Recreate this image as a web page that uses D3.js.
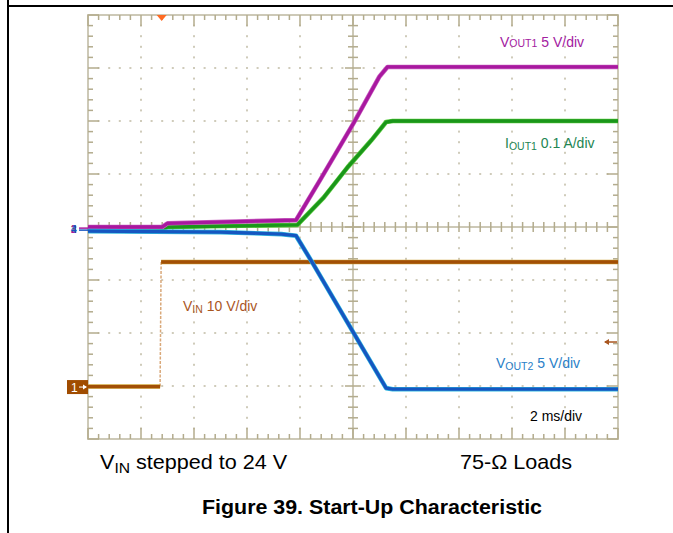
<!DOCTYPE html>
<html><head><meta charset="utf-8">
<script src="https://cdn.jsdelivr.net/npm/d3@7"></script>
<style>body{margin:0;background:#fff}svg{display:block}text{font-family:"Liberation Sans",Arial,Helvetica,sans-serif}</style>
</head><body><svg id="c" width="673" height="533"></svg>
<script>
// ---- data (time in ms, 2 ms/div) ----
const vinTime   = [0, 2.72, 2.76, 20];
const vinVolts  = [0.1, 0.1, 23.6, 23.6];          // 10 V/div
const vout1Time = [0, 2.8, 3.0, 7.85, 8.75, 10.0, 11.0, 11.3, 20];
const vout1Volts= [0.2, 0.2, 0.55, 0.85, 4.6, 9.9, 14.4, 15.3, 15.3];   // 5 V/div
const iout1Time = [0, 2.8, 3.0, 7.9, 8.9, 9.8, 10.7, 11.25, 11.5, 20];
const iout1Amps = [0.0, 0.0, 0.004, 0.008, 0.060, 0.117, 0.168, 0.202, 0.204, 0.204]; // 0.1 A/div
const vout2Time = [0, 5.0, 7.3, 7.85, 8.5, 10.0, 11.25, 11.5, 20];
const vout2Volts= [-0.19, -0.28, -0.47, -0.62, -3.3, -9.7, -15.0, -15.1, -15.1]; // 5 V/div
const triggerTime = 2.78;   // ms
const triggerLevel = 8.5;   // V on VIN channel

const W=673,H=533;
const svg=d3.select("#c");
svg.append("rect").attr("width",W).attr("height",H).attr("fill","#fff");
// page frame
svg.append("line").attr("x1",8).attr("x2",8).attr("y1",0).attr("y2",H).attr("stroke","#000").attr("stroke-width",2);
svg.append("line").attr("x1",8).attr("x2",W).attr("y1",6).attr("y2",6).attr("stroke","#000").attr("stroke-width",2);

const L=88,R=618,T=15,B=439;
const x=d3.scaleLinear().domain([0,20]).range([L,R]);
const yDiv=d3.scaleLinear().domain([-4,4]).range([B,T]);
const chans={
  vin:{scale:10,offset:-3.02},
  vout1:{scale:5,offset:-0.04},
  iout1:{scale:0.1,offset:-0.04},
  vout2:{scale:5,offset:-0.04}
};
const yOf=(ch,v)=>yDiv(v/chans[ch].scale+chans[ch].offset);

const gridC="#cdc9b7", tickC="#b3ab8d", dotC="#cfcbba";
const majX=d3.range(0,20.001,2), minX=d3.range(0,20.001,0.4);
const majY=d3.range(-4,4.001,1), minY=d3.range(-4,4.001,0.2);
const g=svg.append("g");
// dotted grid
majX.filter(v=>v>0&&v<20&&v!==10).forEach(xv=>{
  minY.forEach(yv=>g.append("rect").attr("x",x(xv)-1).attr("y",yDiv(yv)-1).attr("width",2).attr("height",2).attr("fill",dotC));
});
majY.filter(v=>v>-4&&v<4&&v!==0).forEach(yv=>{
  minX.forEach(xv=>g.append("rect").attr("x",x(xv)-1).attr("y",yDiv(yv)-1).attr("width",2).attr("height",2).attr("fill",dotC));
});
// center cross
g.append("line").attr("x1",x(10)).attr("x2",x(10)).attr("y1",T).attr("y2",B).attr("stroke",gridC).attr("stroke-width",2);
g.append("line").attr("x1",L).attr("x2",R).attr("y1",yDiv(0)).attr("y2",yDiv(0)).attr("stroke",gridC).attr("stroke-width",2);
const isMaj=(v)=>Math.abs(v-Math.round(v))<1e-6;
minX.forEach(xv=>{
  const len=5;
  g.append("line").attr("x1",x(xv)).attr("x2",x(xv)).attr("y1",yDiv(0)-len).attr("y2",yDiv(0)+len).attr("stroke",tickC).attr("stroke-width",1.5);
});
minY.forEach(yv=>{
  const len=isMaj(yv)?8:5;
  g.append("line").attr("x1",x(10)-len).attr("x2",x(10)+len).attr("y1",yDiv(yv)).attr("y2",yDiv(yv)).attr("stroke",tickC).attr("stroke-width",1.5);
});
// border
g.append("rect").attr("x",L).attr("y",T).attr("width",R-L).attr("height",B-T).attr("fill","none").attr("stroke",gridC).attr("stroke-width",2);
minX.forEach(xv=>{
  const len=isMaj(xv/2)?11:5;
  g.append("line").attr("x1",x(xv)).attr("x2",x(xv)).attr("y1",T).attr("y2",T+len).attr("stroke",tickC).attr("stroke-width",1.5);
  g.append("line").attr("x1",x(xv)).attr("x2",x(xv)).attr("y1",B).attr("y2",B-len).attr("stroke",tickC).attr("stroke-width",1.5);
});
minY.forEach(yv=>{
  const len=isMaj(yv)?11:5;
  g.append("line").attr("x1",L).attr("x2",L+len).attr("y1",yDiv(yv)).attr("y2",yDiv(yv)).attr("stroke",tickC).attr("stroke-width",1.5);
  g.append("line").attr("x1",R).attr("x2",R-len).attr("y1",yDiv(yv)).attr("y2",yDiv(yv)).attr("stroke",tickC).attr("stroke-width",1.5);
});

// traces
function trace(ch,ts,vs,color,fringe){
  const pts=ts.map((t,i)=>[x(t),yOf(ch,vs[i])]);
  const gg=svg.append("g");
  const isJump=(a,b)=>Math.abs(b[1]-a[1])>20 && Math.abs(b[0]-a[0])<4;
  for(let i=0;i<pts.length-1;i++){
    const a=pts[i],b=pts[i+1];
    if(isJump(a,b)){
      gg.append("line").attr("x1",a[0]).attr("y1",a[1]).attr("x2",b[0]).attr("y2",b[1])
        .attr("stroke","#d9a879").attr("stroke-width",1.5).attr("stroke-dasharray","3,1.5");
    }
  }
  const segs=[];let cur=[pts[0]];
  for(let i=1;i<pts.length;i++){
    if(isJump(pts[i-1],pts[i])){segs.push(cur);cur=[pts[i]];}else cur.push(pts[i]);
  }
  segs.push(cur);
  const line=d3.line();
  segs.forEach(s=>{
    if(fringe) gg.append("path").attr("d",line(s)).attr("fill","none").attr("stroke",fringe).attr("stroke-width",4.6).attr("stroke-linejoin","round");
    gg.append("path").attr("d",line(s)).attr("fill","none").attr("stroke",color).attr("stroke-width",3.3).attr("stroke-linejoin","round");
  });
}
trace("vin",vinTime,vinVolts,"#a24f06","#cfa43a");
trace("iout1",iout1Time,iout1Amps,"#1a961a","#5ccc40");
trace("vout1",vout1Time,vout1Volts,"#a8189f","#c860c0");
trace("vout2",vout2Time,vout2Volts,"#1656c0","#30b8e0");

// trigger marker (top)
const tx=x(triggerTime);
svg.append("path").attr("d",`M${tx-5},${T}L${tx+5},${T}L${tx},${T+6}Z`).attr("fill","#ff6a22");
// trigger level arrow (right)
const ty=yOf("vin",triggerLevel);
svg.append("line").attr("x1",R-13).attr("x2",R-1).attr("y1",ty).attr("y2",ty).attr("stroke","#a9561f").attr("stroke-width",1.5);
svg.append("path").attr("d",`M${R-14},${ty}L${R-9},${ty-3}L${R-9},${ty+3}Z`).attr("fill","#a9561f");
// channel 1 ground marker
const g1=yOf("vin",0);
svg.append("rect").attr("x",67).attr("y",g1-7).attr("width",21).attr("height",14).attr("fill","#a04c00");
svg.append("text").attr("x",71).attr("y",g1+5).attr("fill","#fff").style("font-size","12px").text("1");
svg.append("line").attr("x1",79).attr("x2",86).attr("y1",g1).attr("y2",g1).attr("stroke","#fff").attr("stroke-width",1);
svg.append("path").attr("d",`M87,${g1}L83,${g1-2.5}L83,${g1+2.5}Z`).attr("fill","#fff");
// channel 2-4 ground markers
const g2=yOf("vout1",0);
[["#1a961a","3"],["#a8189f","2"],["#1656c0","4"]].forEach(([c,s])=>{
  svg.append("text").attr("x",71).attr("y",g2+4).attr("fill",c).style("font-size","10px").style("font-weight","bold").text(s);
});
svg.append("line").attr("x1",79).attr("x2",88).attr("y1",g2-1).attr("y2",g2-1).attr("stroke","#a8189f").attr("stroke-width",1.5);
svg.append("line").attr("x1",79).attr("x2",88).attr("y1",g2+1).attr("y2",g2+1).attr("stroke","#1656c0").attr("stroke-width",1.5);

// labels
function label(xp,yp,main,sub,rest,color,size,subSize,shift,sx){
  const t=svg.append("text").attr("transform",`translate(${xp},${yp}) scale(${sx||1},1)`).attr("fill",color).style("font-size",size+"px");
  t.append("tspan").text(main);
  t.append("tspan").attr("dy",shift).style("font-size",subSize+"px").text(sub);
  t.append("tspan").attr("dy",-shift).text(rest);
  return t;
}
label(500,47,"V","OUT1"," 5 V/div","#a3209f",14,10.5,0);
label(505,148,"I","OUT1"," 0.1 A/div","#238552",14,10.5,1.5);
label(183,311,"V","IN"," 10 V/div","#a9561f",14,10.5,1.5);
label(496,368,"V","OUT2"," 5 V/div","#2a80c8",14,10.5,1.5);
svg.append("text").attr("x",530).attr("y",421).attr("fill","#000").style("font-size","14px").text("2 ms/div");

label(100,469,"V","IN"," stepped to 24 V","#000",20,14.5,4,1.08);
svg.append("text").attr("transform","translate(460,469) scale(1.08,1)").attr("fill","#000").style("font-size","20px").text("75-\u03A9 Loads");
svg.append("text").attr("transform","translate(372,514) scale(1.07,1)").attr("text-anchor","middle").attr("fill","#000").style("font-size","20px").style("font-weight","bold").text("Figure 39. Start-Up Characteristic");
</script></body></html>
